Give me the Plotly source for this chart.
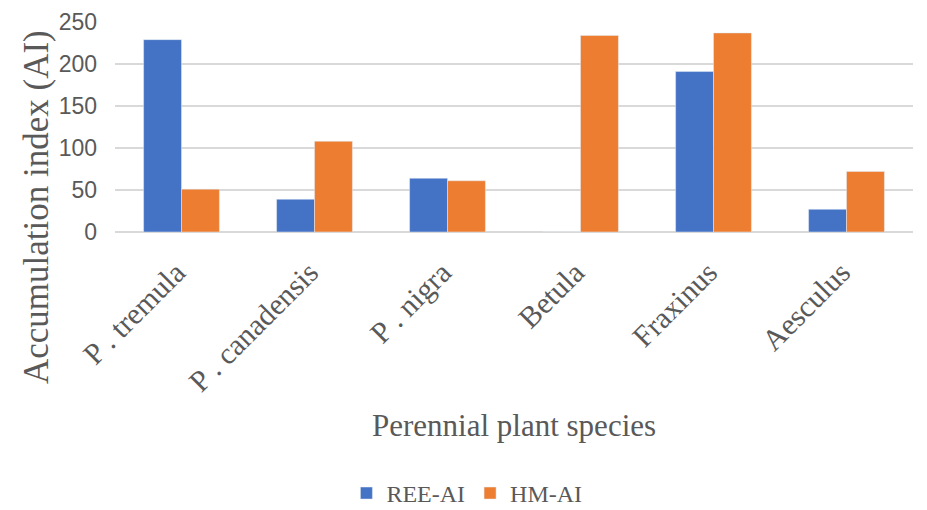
import plotly.graph_objects as go

species = ["P . tremula", "P . canadensis", "P . nigra", "Betula", "Fraxinus", "Aesculus"]
ree_ai = [229, 39, 64, 0, 191, 27]
hm_ai = [51, 108, 61, 234, 237, 72]
y_ticks = [0, 50, 100, 150, 200, 250]

GRAY = "#595959"
SERIF = "Liberation Serif"

fig = go.Figure()
fig.add_trace(go.Bar(x=species, y=ree_ai, name="REE-AI", marker_color="#4472C4"))
fig.add_trace(go.Bar(x=species, y=hm_ai, name="HM-AI", marker_color="#ED7D31"))

# page body has an 8px default margin; compensate so the figure fits the 927x510 window
fig.update_layout(
    width=919, height=502,
    margin=dict(l=107, r=14, t=14, b=278, autoexpand=False),
    paper_bgcolor="white", plot_bgcolor="white",
    barmode="group", bargap=0.43, bargroupgap=0,
    showlegend=True,
    legend=dict(orientation="h", xref="paper", yref="paper",
                x=0.441, xanchor="center", y=-1.245, yanchor="middle",
                font=dict(family=SERIF, size=24, color=GRAY),
                itemwidth=30, traceorder="normal"),
    xaxis=dict(tickangle=-45, tickfont=dict(family=SERIF, size=30, color=GRAY),
               showline=False, ticks="", showgrid=False, automargin=False,
               ticklabelshift=-5, ticklabelstandoff=16),
    yaxis=dict(range=[0, 250], tickvals=y_ticks, showgrid=True, gridcolor="#d9d9d9",
               gridwidth=1.5, zeroline=True, zerolinecolor="#d9d9d9", zerolinewidth=1.5,
               tickfont=dict(family="Liberation Sans", size=23, color=GRAY),
               ticklabelstandoff=17, showline=False, automargin=False),
    annotations=[
        dict(text="Accumulation index (AI)", xref="paper", yref="paper",
             x=-0.099, y=0.119, xanchor="center", yanchor="middle", textangle=-90,
             showarrow=False, font=dict(family=SERIF, size=35, color=GRAY)),
        dict(text="Perennial plant species", xref="paper", yref="paper",
             x=0.5, y=-0.92, xanchor="center", yanchor="middle",
             showarrow=False, font=dict(family=SERIF, size=31, color=GRAY)),
    ],
)

fig.write_html("out.html")
